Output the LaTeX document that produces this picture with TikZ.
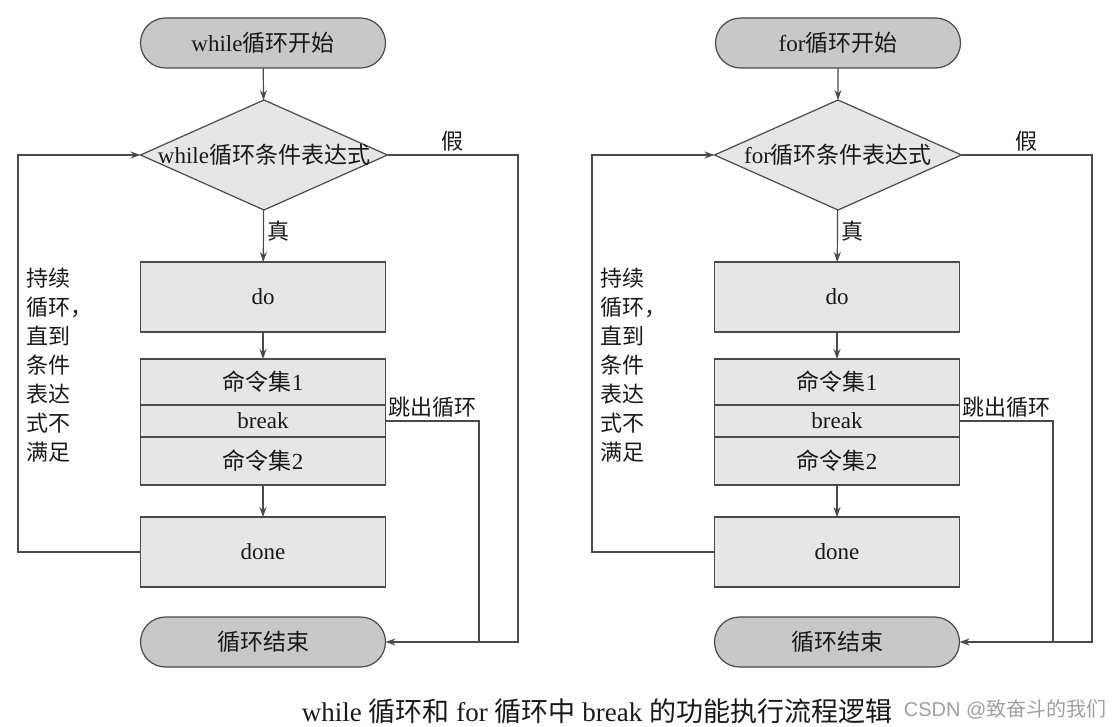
\documentclass[tikz,border=0pt]{standalone}
\usepackage{fontspec}
\setmainfont{Liberation Serif}
\newfontfamily\cjk{Noto Sans CJK SC}
\newfontfamily\wmfont{Liberation Sans}
\usetikzlibrary{arrows.meta,positioning,shapes.geometric,shapes.misc}
\definecolor{linegray}{HTML}{4A4A4A}
\definecolor{termfill}{HTML}{C8C8C8}
\definecolor{boxfill}{HTML}{E6E6E6}

\begin{document}
\begin{tikzpicture}[x=1pt, y=-1pt,
  every node/.style={font=\fontsize{23}{27}\selectfont, text=black!90},
  terminal/.style={rounded rectangle, draw=linegray, fill=termfill, line width=1.2pt, minimum width=245pt, minimum height=50pt, inner sep=0pt, outer sep=0pt},
  decision/.style={diamond, draw=linegray, fill=boxfill, line width=1.2pt, minimum width=247pt, minimum height=110pt, inner sep=0pt, outer sep=0pt},
  process/.style={rectangle, draw=linegray, fill=boxfill, line width=1.2pt, minimum width=245pt, minimum height=70pt, inner sep=0pt, outer sep=0pt},
  arr/.style={-{Stealth[length=10pt,width=7pt]}, draw=linegray, line width=1.2pt},
  link/.style={draw=linegray, line width=1.2pt},
  cjklabel/.style={font=\cjk\fontsize{22}{26}\selectfont}
]
\useasboundingbox (0,0) rectangle (1113,727);

% Left chart: while loop
\node[terminal] (wstart) at (263,43) {while{\cjk 循环开始}};
\node[decision] (wcond) at (264,155) {\makebox[0pt]{while{\cjk 循环条件表达式}}};
\node[process] (wdo) at (263,297) {do};
\node[process, minimum height=46pt] (wcmd1) at (263,382) {{\cjk 命令集}1};
\node[process, minimum height=32pt, below=0pt of wcmd1] (wbrk) {break};
\node[process, minimum height=48pt, below=0pt of wbrk] (wcmd2) {{\cjk 命令集}2};
\node[process] (wdone) at (263,552) {done};
\node[terminal] (wend) at (263,642) {\cjk 循环结束};
\node[anchor=west, align=left, font=\cjk\fontsize{22}{29}\selectfont] (wnote) at (23,365)
  {持续\\循环，\\直到\\条件\\表达\\式不\\满足};
\coordinate (wl) at (18,0);
\coordinate (wb) at (479,0);
\coordinate (wf) at (518,0);

\draw[arr] (wstart) -- (wcond);
\draw[arr] (wcond) -- node[right, pos=0.4, cjklabel] {真} (wdo);
\draw[arr] (wdo) -- (wcmd1);
\draw[arr] (wcmd2) -- (wdone);
\draw[arr] (wdone.west) -- (wdone.west -| wl) -- (wcond.west -| wl) -- (wcond.west);
\draw[arr] (wcond.east) -- node[above, cjklabel] {假} (wcond.east -| wf) -- (wend.east -| wf) -- (wend.east);
\draw[link] (wbrk.east) -- node[above, cjklabel] {跳出循环} (wbrk.east -| wb) -- (wend.east -| wb);

% Right chart: for loop
\node[terminal] (fstart) at (838,43) {for{\cjk 循环开始}};
\node[decision] (fcond) at (838,155) {\makebox[0pt]{for{\cjk 循环条件表达式}}};
\node[process] (fdo) at (837,297) {do};
\node[process, minimum height=46pt] (fcmd1) at (837,382) {{\cjk 命令集}1};
\node[process, minimum height=32pt, below=0pt of fcmd1] (fbrk) {break};
\node[process, minimum height=48pt, below=0pt of fbrk] (fcmd2) {{\cjk 命令集}2};
\node[process] (fdone) at (837,552) {done};
\node[terminal] (fend) at (837,642) {\cjk 循环结束};
\node[anchor=west, align=left, font=\cjk\fontsize{22}{29}\selectfont] (fnote) at (597,365)
  {持续\\循环，\\直到\\条件\\表达\\式不\\满足};
\coordinate (fl) at (592,0);
\coordinate (fb) at (1053,0);
\coordinate (ff) at (1092,0);

\draw[arr] (fstart) -- (fcond);
\draw[arr] (fcond) -- node[right, pos=0.4, cjklabel] {真} (fdo);
\draw[arr] (fdo) -- (fcmd1);
\draw[arr] (fcmd2) -- (fdone);
\draw[arr] (fdone.west) -- (fdone.west -| fl) -- (fcond.west -| fl) -- (fcond.west);
\draw[arr] (fcond.east) -- node[above, cjklabel] {假} (fcond.east -| ff) -- (fend.east -| ff) -- (fend.east);
\draw[link] (fbrk.east) -- node[above, cjklabel] {跳出循环} (fbrk.east -| fb) -- (fend.east -| fb);

% Caption and watermark
\node[font=\fontsize{27}{31}\selectfont] (caption) at (597,711)
  {while {\cjk 循环和} for {\cjk 循环中} break {\cjk 的功能执行流程逻辑}};
\node[anchor=east, text=gray!75, font=\wmfont\fontsize{20}{24}\selectfont] (mark) at (1110,709)
  {CSDN @{\cjk 致奋斗的我们}};
\end{tikzpicture}
\end{document}
